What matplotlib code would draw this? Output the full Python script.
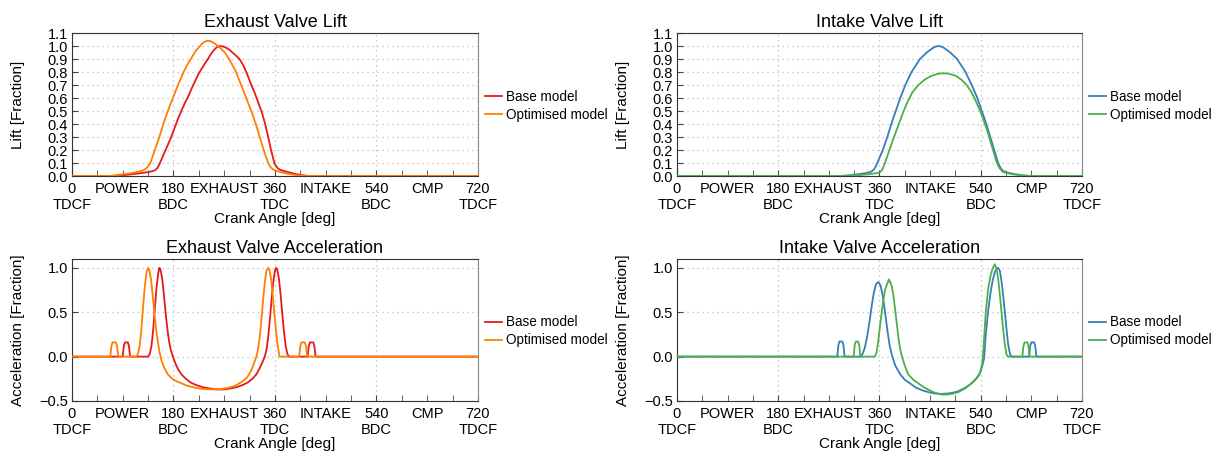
import numpy as np
import matplotlib
matplotlib.use("Agg")
import matplotlib.pyplot as plt

plt.rcParams['font.family'] = ['Liberation Sans', 'DejaVu Sans']

# colours of the two models in each panel
RED, ORANGE, BLUE, GREEN = '#e41a1c', '#ff7f00', '#377eb8', '#4daf4a'

# x axis labels
major_pos = [0, 180, 360, 540, 720]
major_lab = ['0\nTDCF', '180\nBDC', '360\nTDC', '540\nBDC', '720\nTDCF']
minor_pos = [45, 90, 135, 225, 270, 315, 405, 450, 495, 585, 630, 675]
minor_lab = ['', 'POWER', '', '', 'EXHAUST', '', '', 'INTAKE', '', '', 'CMP', '']
series_names = ['Base model', 'Optimised model']

# exhaust valve lift, base
exl_base_x = [0, 75, 95, 115, 135, 145, 149, 152, 155, 158, 164, 170, 176, 182, 188, 194, 200, 207, 215, 225,
              235, 241, 246, 251, 256, 262, 267, 272, 277, 282, 290, 297, 304, 311, 318, 324, 330, 336, 342,
              348, 353, 359, 362, 365, 368, 375, 385, 395, 408, 421, 720]
exl_base_y = [0, 0, 0.008, 0.018, 0.03, 0.04, 0.05, 0.065, 0.09, 0.12, 0.18, 0.24, 0.30, 0.37, 0.44, 0.50,
              0.56, 0.62, 0.70, 0.79, 0.86, 0.90, 0.935, 0.965, 0.988, 1.0, 0.998, 0.99, 0.977, 0.96, 0.93,
              0.90, 0.85, 0.78, 0.70, 0.64, 0.57, 0.50, 0.41, 0.30, 0.20, 0.10, 0.075, 0.06, 0.05, 0.04,
              0.028, 0.017, 0.006, 0, 0]
# exhaust valve lift, optimised
exl_opt_x = [0, 65, 85, 105, 120, 129, 132, 135, 139, 143, 147, 151, 155, 162, 170, 179, 188, 198, 205, 212,
             219, 226, 230, 234, 238, 241, 245, 249, 253, 256, 262, 271, 280, 290, 300, 309, 318, 326, 333,
             340, 348, 351, 354, 357, 362, 370, 380, 395, 410, 720]
exl_opt_y = [0, 0, 0.01, 0.022, 0.035, 0.05, 0.06, 0.075, 0.10, 0.15, 0.20, 0.25, 0.30, 0.40, 0.50, 0.60,
             0.70, 0.80, 0.86, 0.91, 0.96, 0.995, 1.015, 1.03, 1.038, 1.04, 1.038, 1.03, 1.02, 1.01, 0.99,
             0.95, 0.89, 0.81, 0.70, 0.60, 0.50, 0.40, 0.30, 0.20, 0.10, 0.075, 0.06, 0.05, 0.04, 0.03, 0.02,
             0.008, 0, 0]

# intake valve lift, base
inl_base_x = [0, 290, 305, 320, 335, 343, 347, 350, 353, 356, 361, 366, 370, 374, 381, 389, 397, 406, 417,
              432, 444, 455, 460, 465, 470, 475, 486, 498, 513, 524, 534, 542, 550, 557, 564, 571, 575, 578,
              581, 584, 600, 615, 628, 720]
inl_base_y = [0, 0, 0.005, 0.012, 0.022, 0.03, 0.038, 0.05, 0.07, 0.10, 0.15, 0.20, 0.25, 0.30, 0.40, 0.50,
              0.60, 0.70, 0.80, 0.90, 0.95, 0.985, 0.996, 1.0, 0.996, 0.985, 0.95, 0.90, 0.80, 0.70, 0.60,
              0.50, 0.40, 0.30, 0.20, 0.10, 0.065, 0.048, 0.037, 0.03, 0.015, 0.005, 0, 0]
# intake valve lift, optimised
inl_opt_x = [0, 302, 320, 340, 355, 361, 363, 365, 369, 373, 377, 381, 385, 391, 397, 403, 410, 418, 429,
             440, 452, 463, 468, 474, 480, 485, 496, 506, 515, 523, 531, 539, 546, 553, 559, 564, 568, 571,
             574, 577, 580, 595, 612, 628, 720]
inl_opt_y = [0, 0, 0.005, 0.013, 0.022, 0.03, 0.038, 0.05, 0.09, 0.14, 0.19, 0.24, 0.29, 0.36, 0.43, 0.50,
             0.57, 0.64, 0.70, 0.74, 0.77, 0.785, 0.789, 0.79, 0.789, 0.785, 0.77, 0.74, 0.70, 0.65, 0.58,
             0.50, 0.42, 0.33, 0.24, 0.17, 0.11, 0.08, 0.058, 0.042, 0.03, 0.015, 0.005, 0, 0]

# exhaust valve acceleration, base
exa_base_x = [0, 90, 92, 94, 99, 101, 103, 135, 138, 141, 144, 147, 150, 153, 155, 157, 160, 163, 166, 169,
              172, 175, 179, 183, 188, 194, 202, 210, 220, 232, 245, 256, 268, 280, 292, 303, 312, 320, 327,
              333, 338, 342, 345, 348, 351, 354, 357, 360, 362, 364, 367, 370, 373, 376, 379, 382, 385, 418,
              420, 422, 428, 430, 432, 720]
exa_base_y = [0, 0, 0.12, 0.16, 0.16, 0.12, 0, 0, 0.03, 0.12, 0.3, 0.55, 0.78, 0.94, 1.0, 0.98, 0.88, 0.7,
              0.5, 0.32, 0.18, 0.08, 0, -0.07, -0.14, -0.2, -0.25, -0.29, -0.32, -0.345, -0.36, -0.37, -0.37,
              -0.36, -0.345, -0.32, -0.29, -0.25, -0.2, -0.13, -0.06, 0, 0.08, 0.22, 0.42, 0.64, 0.84, 0.97,
              1.0, 0.98, 0.88, 0.7, 0.48, 0.28, 0.12, 0.03, 0, 0, 0.12, 0.16, 0.16, 0.12, 0, 0]
# exhaust valve acceleration, optimised
exa_opt_x = [0, 68, 70, 72, 78, 80, 82, 114, 117, 120, 123, 126, 129, 132, 135, 137, 140, 143, 146, 149, 152,
             155, 159, 164, 170, 178, 186, 194, 205, 218, 232, 250, 265, 278, 289, 297, 304, 310, 314, 319,
             323, 327, 330, 333, 336, 339, 342, 345, 348, 350, 353, 356, 359, 362, 365, 368, 403, 405, 407,
             413, 415, 417, 720]
exa_opt_y = [0, 0, 0.12, 0.16, 0.16, 0.12, 0, 0, 0.03, 0.12, 0.3, 0.55, 0.78, 0.94, 1.0, 0.98, 0.88, 0.7,
             0.5, 0.32, 0.18, 0.06, -0.05, -0.13, -0.2, -0.25, -0.28, -0.3, -0.33, -0.35, -0.365, -0.37,
             -0.365, -0.35, -0.33, -0.3, -0.27, -0.24, -0.2, -0.14, -0.07, 0, 0.08, 0.22, 0.42, 0.64, 0.84,
             0.97, 1.0, 0.98, 0.88, 0.7, 0.48, 0.28, 0.12, 0, 0, 0.12, 0.16, 0.16, 0.12, 0, 0]

# intake valve acceleration, base
ina_base_x = [0, 285, 287, 289, 294, 296, 298, 326, 330, 334, 338, 342, 346, 350, 354, 358, 362, 366, 370, 374,
              378, 382, 388, 397, 405, 414, 425, 436, 447, 458, 470, 482, 492, 500, 510, 520, 527, 533, 539,
              543, 546, 549, 553, 557, 561, 565, 568, 571, 574, 577, 580, 583, 586, 589, 592, 595, 626, 628,
              630, 635, 637, 639, 720]
ina_base_y = [0, 0, 0.13, 0.17, 0.17, 0.13, 0, 0, 0.03, 0.1, 0.22, 0.38, 0.56, 0.72, 0.82, 0.84, 0.8, 0.68,
              0.5, 0.3, 0.13, 0.02, -0.1, -0.2, -0.26, -0.3, -0.35, -0.38, -0.4, -0.415, -0.42, -0.415,
              -0.405, -0.39, -0.36, -0.32, -0.28, -0.24, -0.18, -0.1, -0.02, 0.25, 0.5, 0.7, 0.85, 0.95,
              0.99, 1.0, 0.97, 0.85, 0.68, 0.5, 0.3, 0.13, 0.03, 0, 0, 0.12, 0.16, 0.16, 0.12, 0, 0]
# intake valve acceleration, optimised
ina_opt_x = [0, 314, 316, 318, 322, 324, 326, 352, 355, 358, 361, 364, 367, 370, 372, 375, 377, 379, 382, 385,
             388, 391, 394, 397, 400, 405, 411, 420, 429, 440, 456, 465, 474, 483, 492, 500, 512, 524, 532,
             538, 541, 543, 545, 549, 553, 557, 561, 565, 568, 571, 574, 577, 580, 583, 586, 589, 614, 616,
             618, 623, 625, 627, 720]
ina_opt_y = [0, 0, 0.13, 0.17, 0.17, 0.13, 0, 0, 0.05, 0.18, 0.35, 0.5, 0.64, 0.75, 0.79, 0.84, 0.87, 0.84,
             0.79, 0.68, 0.52, 0.36, 0.2, 0.08, 0, -0.1, -0.2, -0.26, -0.3, -0.35, -0.4, -0.42, -0.43,
             -0.425, -0.415, -0.4, -0.36, -0.3, -0.25, -0.2, -0.13, -0.06, 0.1, 0.5, 0.75, 0.9, 0.99, 1.04,
             1.0, 0.88, 0.7, 0.5, 0.3, 0.13, 0.02, 0, 0, 0.12, 0.16, 0.16, 0.12, 0, 0]

panels = [
    ('Exhaust Valve Lift', 'Lift [Fraction]', exl_base_x, exl_base_y, exl_opt_x, exl_opt_y, RED, ORANGE, 'lift'),
    ('Intake Valve Lift', 'Lift [Fraction]', inl_base_x, inl_base_y, inl_opt_x, inl_opt_y, BLUE, GREEN, 'lift'),
    ('Exhaust Valve Acceleration', 'Acceleration [Fraction]', exa_base_x, exa_base_y, exa_opt_x, exa_opt_y,
     RED, ORANGE, 'acc'),
    ('Intake Valve Acceleration', 'Acceleration [Fraction]', ina_base_x, ina_base_y, ina_opt_x, ina_opt_y,
     BLUE, GREEN, 'acc'),
]

fig = plt.figure(figsize=(12.18, 4.58), dpi=100)
rects = [
    [0.0591, 0.6157, 0.3333, 0.3122],
    [0.5558, 0.6157, 0.3325, 0.3122],
    [0.0591, 0.1245, 0.3333, 0.3100],
    [0.5558, 0.1245, 0.3325, 0.3100],
]

for rect, (title, ylab, bx, by, ox, oy, c1, c2, kind) in zip(rects, panels):
    ax = fig.add_axes(rect)
    ax.plot(bx, by, color=c1, lw=1.3, label=series_names[0], zorder=3)
    ax.plot(ox, oy, color=c2, lw=1.3, label=series_names[1], zorder=4)
    ax.set_xlim(0, 720)
    if kind == 'lift':
        ax.set_ylim(0, 1.1)
        yt = np.round(np.arange(0, 1.11, 0.1), 1)
        ax.set_yticks(yt, [f'{v:.1f}' for v in yt])
    else:
        ax.set_ylim(-0.5, 1.1)
        ax.set_yticks([-0.5, 0.0, 0.5, 1.0])
    ax.set_xticks(major_pos, major_lab)
    ax.set_xticks(minor_pos, minor_lab, minor=True)
    ax.tick_params(axis='both', which='both', direction='in', length=4, labelsize=10.5, pad=3,
                   color='#444444')
    ax.tick_params(axis='x', which='both', pad=4)
    ax.grid(True, which='major', axis='both', linestyle=(0, (1, 3)), color='#bbbbbb', lw=0.9)
    ax.set_axisbelow(True)
    for side in ['left', 'top', 'bottom']:
        ax.spines[side].set_color('#333333')
    ax.spines['right'].set_color('#888888')
    ax.set_title(title, fontsize=13, pad=4)
    ax.set_xlabel('Crank Angle [deg]', fontsize=11, labelpad=0)
    ax.set_ylabel(ylab, fontsize=11)
    ax.yaxis.set_label_coords(-0.115, 0.5)
    ax.legend(loc='center left', bbox_to_anchor=(1.0, 0.49), frameon=False, fontsize=9.75,
              handlelength=1.25, handletextpad=0.3, labelspacing=0.3, borderaxespad=0.1)

fig.savefig('out.png', dpi=100)
